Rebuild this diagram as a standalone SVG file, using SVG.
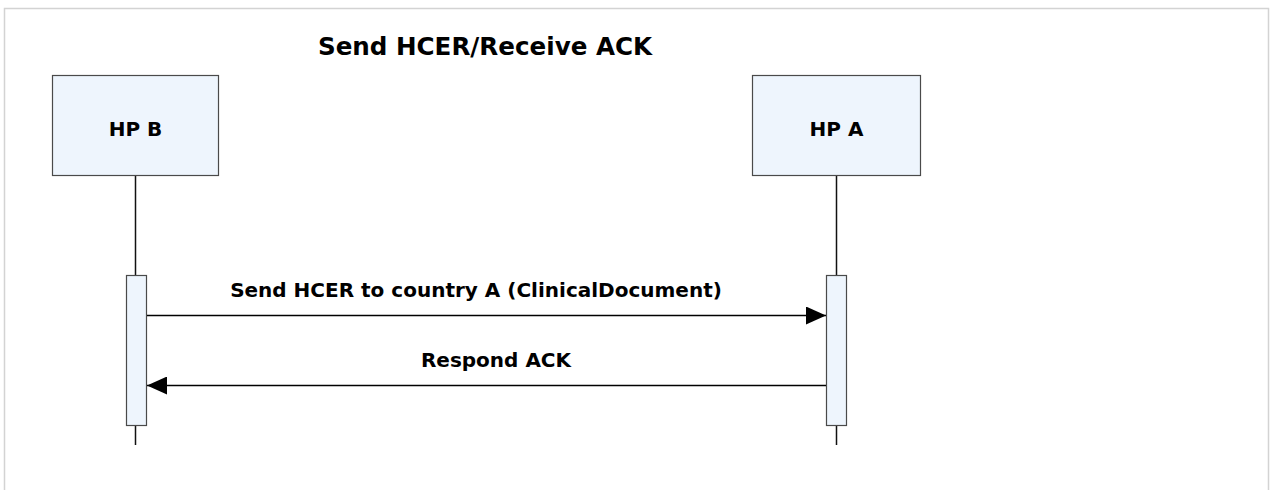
<svg xmlns="http://www.w3.org/2000/svg" width="1271" height="490" viewBox="0 0 1271 490">
<style>
.frame{fill:#fff;stroke:#d3d3d3;stroke-width:1.5}
.box{fill:#eef5fd;stroke:#4a4a4a;stroke-width:1.2}
.life{stroke:#111;stroke-width:1.5;fill:none}
.msg{stroke:#000;stroke-width:1.5;fill:none}
.t{font-family:"DejaVu Sans",Verdana,sans-serif;font-weight:bold;fill:#000;text-anchor:middle;font-size:20px}
</style>
<defs>
<marker id="ah" viewBox="0 0 20 18" refX="20" refY="9" markerWidth="20" markerHeight="18" markerUnits="userSpaceOnUse" orient="auto">
<path d="M0,0 L20,9 L0,18 Z" fill="#000"/>
</marker>
</defs>
<rect width="1271" height="490" fill="#fff"/>
<rect class="frame" x="4.5" y="8.5" width="1264" height="490"/>
<text class="t" x="485" y="55" style="font-size:24.6px">Send HCER/Receive ACK</text>
<g id="hpb">
<line class="life" x1="135.5" y1="175" x2="135.5" y2="445"/>
<rect class="box" x="52.5" y="75.5" width="166" height="100"/>
<text class="t" x="135.5" y="136">HP B</text>
<rect class="box" x="126.5" y="275.5" width="20" height="150"/>
</g>
<g id="hpa">
<line class="life" x1="836.5" y1="175" x2="836.5" y2="445"/>
<rect class="box" x="752.5" y="75.5" width="168" height="100"/>
<text class="t" x="836.5" y="136">HP A</text>
<rect class="box" x="826.5" y="275.5" width="20" height="150"/>
</g>
<g id="connectors">
<line class="msg" x1="147" y1="315.5" x2="826" y2="315.5" marker-end="url(#ah)"/>
<text class="t" x="476" y="297">Send HCER to country A (ClinicalDocument)</text>
<line class="msg" x1="826" y1="385.5" x2="147" y2="385.5" marker-end="url(#ah)"/>
<text class="t" x="496" y="367">Respond ACK</text>
</g>
</svg>
